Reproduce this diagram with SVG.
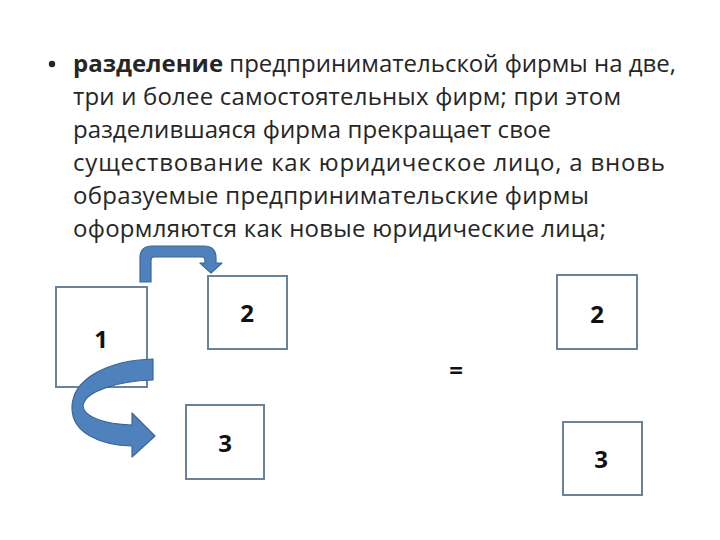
<svg xmlns="http://www.w3.org/2000/svg" width="720" height="540" viewBox="0 0 720 540">
<style>
.t{font-family:"Open Sans","Liberation Sans",sans-serif;font-size:24px;fill:#262626}
.b{font-weight:bold}
.box{fill:#fff;stroke:#6a8399;stroke-width:2}
.num{font-family:"Open Sans","Liberation Sans",sans-serif;font-size:24px;font-weight:bold;fill:#111;text-anchor:middle}
.arr{fill:#4f81bd;stroke:#3b679c;stroke-width:1.2;stroke-linejoin:round}
</style>
<rect width="720" height="540" fill="#fff"/>
<g id="text">
<circle cx="52" cy="64" r="3.2" fill="#262626"/>
<text class="t" x="73" y="72" textLength="603"><tspan class="b">разделение</tspan> предпринимательской фирмы на две,</text>
<text class="t" x="73" y="105" textLength="548">три и более самостоятельных фирм; при этом</text>
<text class="t" x="73" y="138" textLength="478">разделившаяся фирма прекращает свое</text>
<text class="t" x="73" y="171" textLength="592">существование как юридическое лицо, а вновь</text>
<text class="t" x="73" y="204" textLength="516">образуемые предпринимательские фирмы</text>
<text class="t" x="73" y="237" textLength="533">оформляются как новые юридические лица;</text>
</g>
<g id="connectors">
<path class="arr" d="M140,282 L140,258 Q140,246 152,246 L204,246 Q216,246 216,258 L216,263 L222,263 L211,273 L200,263 L205,263 L205,260 Q205,257 202,257 L154,257 Q151,257 151,260 L151,282 Z"/>
</g>
<g id="node1"><rect class="box" x="56" y="287" width="91" height="100"/><text class="num" x="101" y="348">1</text></g>
<g id="node2"><rect class="box" x="208" y="276" width="79" height="73"/><text class="num" x="247" y="322">2</text></g>
<g id="node3"><rect class="box" x="186" y="405" width="78" height="74"/><text class="num" x="225" y="452">3</text></g>
<g id="curved-arrow">
<path class="arr" d="M153,359 C110,360 72,378 72,408 C72,433 100,445 132,446 L132,457 L155,436 L132,413 L132,425 C104,424 84,417 83,406 C84,392 116,381 153,380 Z"/>
</g>
<g id="equals"><text class="num" x="456" y="379">=</text></g>
<g id="node2b"><rect class="box" x="557" y="275" width="80" height="74"/><text class="num" x="597" y="323">2</text></g>
<g id="node3b"><rect class="box" x="563" y="422" width="79" height="73"/><text class="num" x="601" y="468">3</text></g>
</svg>
